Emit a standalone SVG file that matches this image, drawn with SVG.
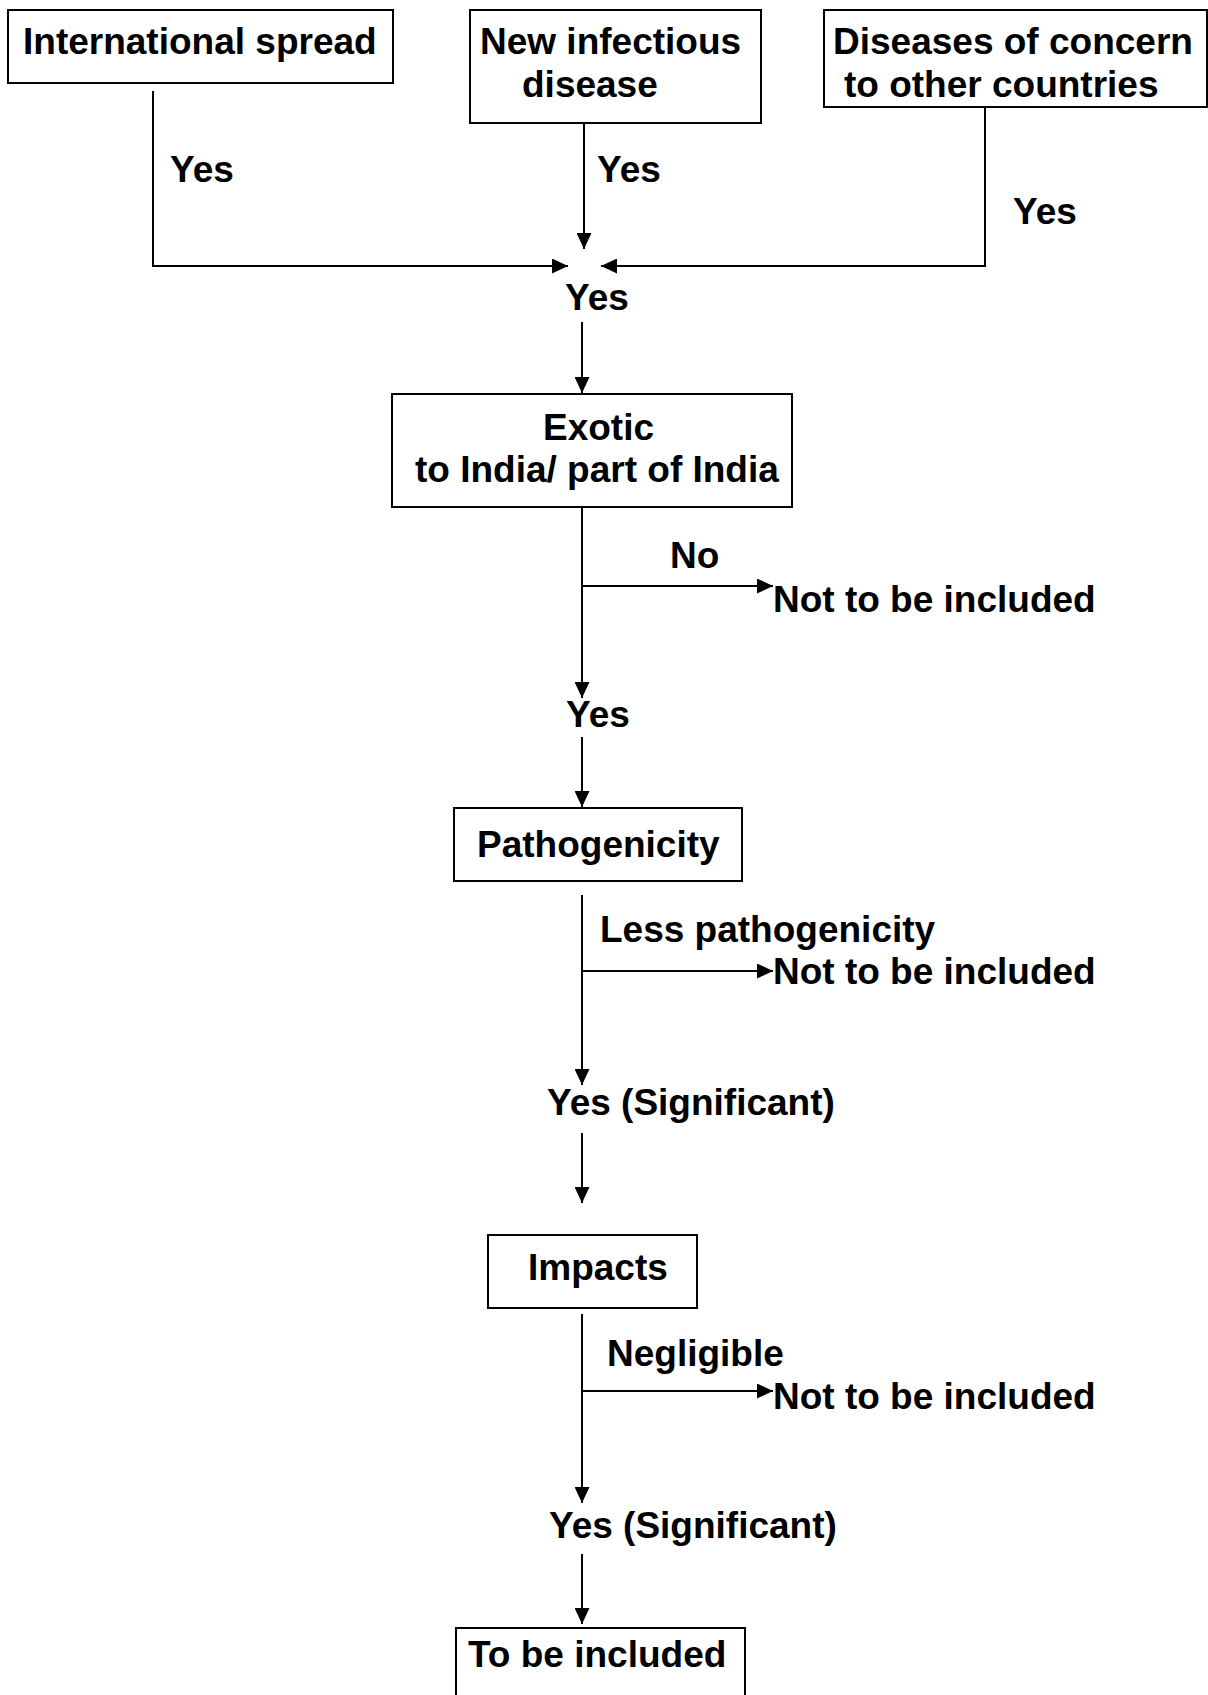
<svg xmlns="http://www.w3.org/2000/svg" width="1208" height="1695" viewBox="0 0 1208 1695">
  <style>
    .box { fill: #ffffff; stroke: #000000; stroke-width: 2; }
    .wire { fill: none; stroke: #000000; stroke-width: 2; }
    .lbl { font-family: "Liberation Sans", Arial, sans-serif; font-weight: bold; font-size: 37px; fill: #000000; }
  </style>
  <defs>
    <marker id="arrow" markerUnits="userSpaceOnUse" markerWidth="16" markerHeight="15" refX="16" refY="7.5" orient="auto">
      <path d="M0,0 L16,7.5 L0,15 Z" fill="#000000"/>
    </marker>
  </defs>
  <rect width="1208" height="1695" fill="#ffffff"/>

  <!-- entry criteria -->
  <g id="node-international">
    <rect class="box" x="8" y="10" width="385" height="73"/>
    <text class="lbl" x="23" y="54">International spread</text>
  </g>
  <g id="node-new-disease">
    <rect class="box" x="470" y="10" width="291" height="113"/>
    <text class="lbl" x="480" y="54">New infectious</text>
    <text class="lbl" x="522" y="97">disease</text>
  </g>
  <g id="node-concern">
    <rect class="box" x="824" y="10" width="383" height="97"/>
    <text class="lbl" x="833" y="54">Diseases of concern</text>
    <text class="lbl" x="844" y="97">to other countries</text>
  </g>

  <!-- decision stages -->
  <g id="node-exotic">
    <rect class="box" x="392" y="394" width="400" height="113"/>
    <text class="lbl" x="543" y="440">Exotic</text>
    <text class="lbl" x="415" y="482">to India/ part of India</text>
  </g>
  <g id="node-pathogenicity">
    <rect class="box" x="454" y="808" width="288" height="73"/>
    <text class="lbl" x="477" y="857">Pathogenicity</text>
  </g>
  <g id="node-impacts">
    <rect class="box" x="488" y="1235" width="209" height="73"/>
    <text class="lbl" x="528" y="1280">Impacts</text>
  </g>
  <g id="node-included">
    <rect class="box" x="456" y="1628" width="289" height="100"/>
    <text class="lbl" x="468" y="1667">To be included</text>
  </g>

  <!-- outcome texts -->
  <g id="node-exclude-1">
    <text class="lbl" x="773" y="612">Not to be included</text>
  </g>
  <g id="node-exclude-2">
    <text class="lbl" x="773" y="984">Not to be included</text>
  </g>
  <g id="node-exclude-3">
    <text class="lbl" x="773" y="1409">Not to be included</text>
  </g>

  <!-- connectors -->
  <g id="connectors">
    <path class="wire" d="M153,91 V266 H568" marker-end="url(#arrow)"/>
    <path class="wire" d="M584,123 V249" marker-end="url(#arrow)"/>
    <path class="wire" d="M985,107 V266 H601" marker-end="url(#arrow)"/>
    <path class="wire" d="M582,322 V393" marker-end="url(#arrow)"/>

    <path class="wire" d="M582,508 V698" marker-end="url(#arrow)"/>
    <path class="wire" d="M582,586 H773" marker-end="url(#arrow)"/>
    <path class="wire" d="M582,737 V807" marker-end="url(#arrow)"/>

    <path class="wire" d="M582,895 V1085" marker-end="url(#arrow)"/>
    <path class="wire" d="M582,971 H773" marker-end="url(#arrow)"/>
    <path class="wire" d="M582,1133 V1203" marker-end="url(#arrow)"/>

    <path class="wire" d="M582,1314 V1503" marker-end="url(#arrow)"/>
    <path class="wire" d="M582,1391 H773" marker-end="url(#arrow)"/>
    <path class="wire" d="M582,1554 V1624" marker-end="url(#arrow)"/>
  </g>

  <!-- connector labels -->
  <g id="edge-labels">
    <text class="lbl" x="170" y="182">Yes</text>
    <text class="lbl" x="597" y="182">Yes</text>
    <text class="lbl" x="1013" y="224">Yes</text>
    <text class="lbl" x="565" y="310">Yes</text>
    <text class="lbl" x="670" y="568">No</text>
    <text class="lbl" x="566" y="727">Yes</text>
    <text class="lbl" x="600" y="942">Less pathogenicity</text>
    <text class="lbl" x="547" y="1115">Yes (Significant)</text>
    <text class="lbl" x="607" y="1366">Negligible</text>
    <text class="lbl" x="549" y="1538">Yes (Significant)</text>
  </g>
</svg>
